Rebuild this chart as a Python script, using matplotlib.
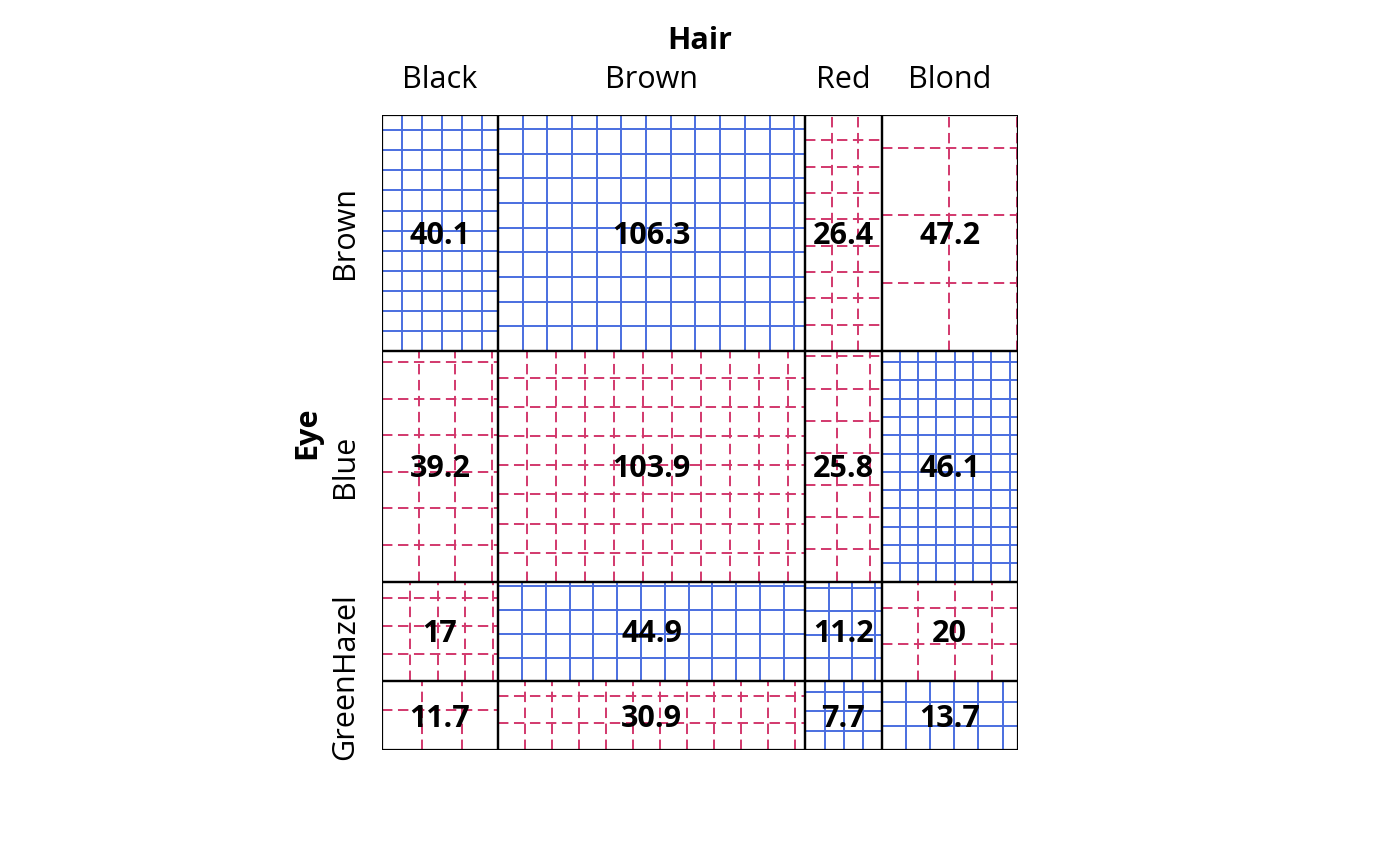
import numpy as np
import matplotlib
matplotlib.use('Agg')
from matplotlib import pyplot as plt
from matplotlib.patches import Rectangle

hair = ['Black', 'Brown', 'Red', 'Blond']
eye = ['Brown', 'Blue', 'Hazel', 'Green']
# observed counts, rows = eye, columns = hair
observed = [
    [68, 119, 26, 7],
    [20, 84, 17, 94],
    [15, 54, 14, 10],
    [5, 29, 14, 16],
]

BLUE = '#4a6ee0'
RED = '#d2386c'


def main():
    plt.rcParams['font.family'] = ['Open Sans', 'DejaVu Sans']
    plt.rcParams['lines.scale_dashes'] = False

    obs = np.array(observed, dtype=float)
    total = obs.sum()
    col_tot = obs.sum(axis=0)
    row_tot = obs.sum(axis=1)
    expected = np.outer(row_tot, col_tot) / total

    # axes sized in pixels so one data unit = one pixel
    W, H = 636, 635
    fig = plt.figure(figsize=(14, 8.66), dpi=100)
    ax = fig.add_axes([382 / 1400, (866 - 750) / 866, W / 1400, H / 866])
    ax.set_xlim(0, W)
    ax.set_ylim(0, H)
    ax.axis('off')

    widths = col_tot / total * W
    heights = row_tot / total * H
    x0s = np.concatenate([[0], np.cumsum(widths)[:-1]])
    ytops = H - np.concatenate([[0], np.cumsum(heights)[:-1]])

    for i in range(len(eye)):
        for j in range(len(hair)):
            x0 = x0s[j]
            w = widths[j]
            h = heights[i]
            y0 = ytops[i] - h
            n = obs[i, j]
            side = np.sqrt(w * h / n)
            if n > expected[i, j]:
                kw = dict(color=BLUE, lw=1.4, ls='-')
            else:
                kw = dict(color=RED, lw=1.4, ls=(0, (7.5, 4)))
            xs = np.arange(side, w, side)
            ys = np.arange(side, h, side)
            for xx in xs:
                ax.plot([x0 + xx, x0 + xx], [y0, y0 + h], **kw)
            for yy in ys:
                ax.plot([x0, x0 + w], [y0 + yy, y0 + yy], **kw)
            ax.add_patch(Rectangle((x0, y0), w, h, fill=False, ec='black', lw=1.6, zorder=3))
            ax.text(x0 + w / 2, y0 + h / 2 - 3, '%g' % round(expected[i, j], 1),
                    ha='center', va='center', fontsize=22, fontweight='bold', zorder=4)

    for j, name in enumerate(hair):
        ax.text(x0s[j] + widths[j] / 2, H + 35, name, ha='center', va='center',
                fontsize=22, clip_on=False)
    ax.text(W / 2, H + 74, 'Hair', ha='center', va='center', fontsize=22,
            fontweight='bold', clip_on=False)

    for i, name in enumerate(eye):
        ax.text(-37, ytops[i] - heights[i] / 2, name, ha='center', va='center',
                rotation=90, fontsize=22, clip_on=False)
    ax.text(-75, H / 2, 'Eye', ha='center', va='center', rotation=90, fontsize=22,
            fontweight='bold', clip_on=False)

    fig.savefig('out.png', dpi=100)


if __name__ == '__main__':
    main()
